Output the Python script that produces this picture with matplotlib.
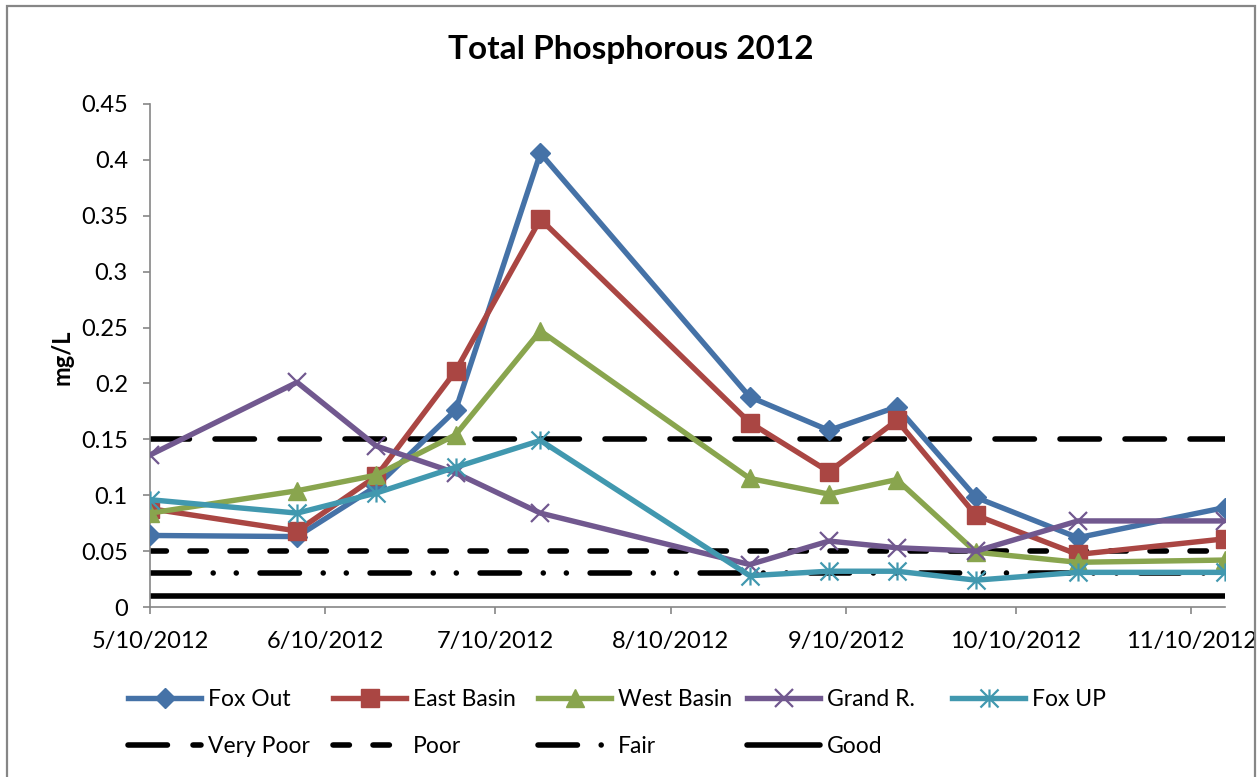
import datetime as dt
import matplotlib
matplotlib.use('Agg')
import matplotlib.pyplot as plt
import matplotlib.dates as mdates
from matplotlib.path import Path
from matplotlib.patches import Rectangle

# sampling dates and values
dates = ['2012-05-10', '2012-06-05', '2012-06-19', '2012-07-03', '2012-07-18', '2012-08-24',
         '2012-09-07', '2012-09-19', '2012-10-03', '2012-10-21', '2012-11-16']
fox_out = [0.064, 0.063, 0.108, 0.176, 0.406, 0.188, 0.158, 0.179, 0.098, 0.062, 0.089]
east_basin = [0.088, 0.068, 0.117, 0.211, 0.347, 0.165, 0.121, 0.167, 0.082, 0.047, 0.061]
west_basin = [0.084, 0.104, 0.118, 0.154, 0.247, 0.115, 0.101, 0.114, 0.049, 0.040, 0.042]
grand_r = [0.136, 0.201, 0.144, 0.120, 0.084, 0.038, 0.059, 0.053, 0.050, 0.077, 0.077]
fox_up = [0.096, 0.084, 0.102, 0.125, 0.149, 0.028, 0.032, 0.032, 0.024, 0.031, 0.031]

series_names = ['Fox Out', 'East Basin', 'West Basin', 'Grand R.', 'Fox UP']
threshold_names = ['Very Poor', 'Poor', 'Fair', 'Good']
threshold_values = [0.15, 0.05, 0.03, 0.01]

x = [dt.datetime.strptime(d, '%Y-%m-%d') for d in dates]

plt.rcParams['font.family'] = ['Lato', 'DejaVu Sans']
plt.rcParams['lines.scale_dashes'] = False

# excel style "star" marker: X plus a vertical bar
star = Path([(-1, -1), (1, 1), (-1, 1), (1, -1), (0, -1), (0, 1)],
            [Path.MOVETO, Path.LINETO, Path.MOVETO, Path.LINETO, Path.MOVETO, Path.LINETO])

fig = plt.figure(figsize=(12.6, 7.77), dpi=100)
W, H = 1260, 777
ax = fig.add_axes([150 / W, 1 - 607 / H, (1225 - 150) / W, (607 - 104) / H])

styles = [
    (fox_out, '#4572A7', dict(marker='D', markersize=10)),
    (east_basin, '#AA4643', dict(marker='s', markersize=13)),
    (west_basin, '#89A54E', dict(marker='^', markersize=13)),
    (grand_r, '#71588F', dict(marker='x', markersize=13, markeredgewidth=1.6)),
    (fox_up, '#4198AF', dict(marker=star, markersize=13, markeredgewidth=1.6)),
]
series_handles = []
for (vals, col, mk), name in zip(styles, series_names):
    h, = ax.plot(x, vals, color=col, lw=3.9, label=name, zorder=3,
                 markerfacecolor=col, markeredgecolor=col, **mk)
    series_handles.append(h)

dash_styles = [(0, (28.4, 18.4)),
               (0, (11.8, 17.0)),
               (0, (28.4, 17.1, 0.01, 16.6, 0.01, 17.1)),
               '-']
thr_handles = []
for val, ls, name in zip(threshold_values, dash_styles, threshold_names):
    h, = ax.plot([x[0], x[-1]], [val, val], color='black', lw=4, linestyle=ls,
                 dash_capstyle='round', solid_capstyle='round', label=name, zorder=2)
    thr_handles.append(h)

ax.set_xlim(x[0], x[-1])
ax.set_ylim(0, 0.45)
ax.set_yticks([i * 0.05 for i in range(10)])
ax.set_yticklabels(['0', '0.05', '0.1', '0.15', '0.2', '0.25', '0.3', '0.35', '0.4', '0.45'])
ax.xaxis.set_major_locator(mdates.MonthLocator(bymonthday=10))
ax.xaxis.set_major_formatter(plt.FuncFormatter(
    lambda v, p: '{0.month}/{0.day}/{0.year}'.format(mdates.num2date(v))))

for s in ['top', 'right']:
    ax.spines[s].set_visible(False)
for s in ['left', 'bottom']:
    ax.spines[s].set_color('#868686')
    ax.spines[s].set_linewidth(1.2)
ax.tick_params(axis='both', colors='#868686', labelcolor='black', labelsize=17,
               length=5, width=1.2, direction='out')
ax.tick_params(axis='y', pad=11)
ax.tick_params(axis='x', pad=12)

fig.text(62 / W, 1 - 357 / H, 'mg/L', rotation=90, ha='center', va='center',
         fontsize=17, fontweight='bold')
fig.text(631 / W, 1 - 49 / H, 'Total Phosphorous 2012', ha='center', va='center',
         fontsize=24, fontweight='bold')

# legend: one small legend per column so the columns are evenly spaced like excel
col_x = [128, 333, 538, 747, 952]
for i, cx in enumerate(col_x):
    hs = [series_handles[i]]
    if i < len(thr_handles):
        hs.append(thr_handles[i])
    fig.legend(handles=hs, loc='upper left', bbox_to_anchor=(cx / W, 1 - 689 / H),
               frameon=False, fontsize=16.5, handlelength=3.2, handletextpad=0.3,
               borderpad=0, borderaxespad=0, labelspacing=1.15)

fig.patches.append(Rectangle((7 / W, -0.02), (1255 - 7) / W, 1.02 - 6 / H,
                             transform=fig.transFigure, fill=False,
                             edgecolor='#868686', lw=1.6))

fig.savefig('out.png', dpi=100)
